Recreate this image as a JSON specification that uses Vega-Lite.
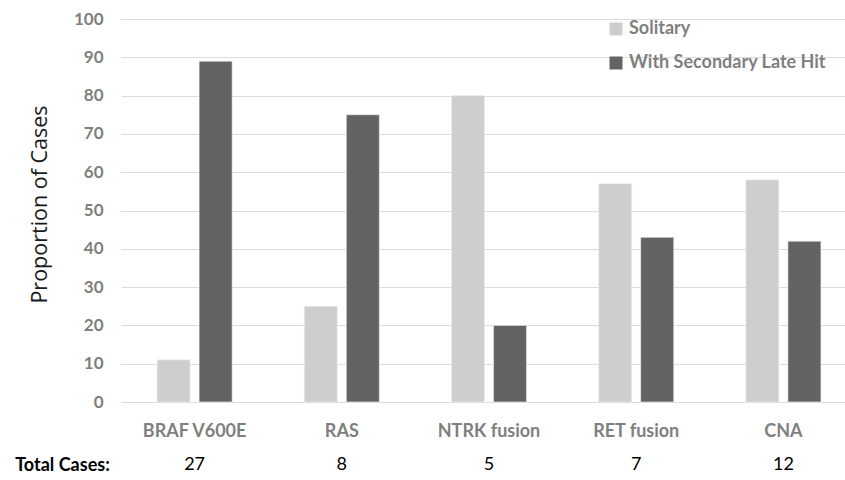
{
  "$schema": "https://vega.github.io/schema/vega-lite/v6.json",
  "autosize": "none",
  "padding": {"left": 121, "top": 19, "right": 0, "bottom": 78},
  "width": 736,
  "height": 383,
  "config": {
    "font": "Lato",
    "view": {"stroke": null},
    "axisY": {
      "values": [0, 10, 20, 30, 40, 50, 60, 70, 80, 90, 100],
      "titleFontSize": 21.5,
      "titleFontWeight": "normal",
      "titleColor": "#1a1a1a",
      "titleFont": "Open Sans",
      "titleX": -81,
      "titleY": 185,
      "titleAnchor": null,
      "titleAlign": "center",
      "titleBaseline": "middle",
      "labelFontSize": 17,
      "labelFontWeight": "bold",
      "labelColor": "#7f7f7f",
      "labelPadding": 18,
      "domain": false,
      "ticks": false,
      "grid": true,
      "gridColor": "#dcdcdc",
      "gridWidth": 1.2
    }
  },
  "datasets": {
    "bars": [
      {"category": "BRAF V600E", "group": "Solitary", "value": 11},
      {"category": "BRAF V600E", "group": "With Secondary Late Hit", "value": 89},
      {"category": "RAS", "group": "Solitary", "value": 25},
      {"category": "RAS", "group": "With Secondary Late Hit", "value": 75},
      {"category": "NTRK fusion", "group": "Solitary", "value": 80},
      {"category": "NTRK fusion", "group": "With Secondary Late Hit", "value": 20},
      {"category": "RET fusion", "group": "Solitary", "value": 57},
      {"category": "RET fusion", "group": "With Secondary Late Hit", "value": 43},
      {"category": "CNA", "group": "Solitary", "value": 58},
      {"category": "CNA", "group": "With Secondary Late Hit", "value": 42}
    ],
    "totals": [
      {"category": "BRAF V600E", "total": 27},
      {"category": "RAS", "total": 8},
      {"category": "NTRK fusion", "total": 5},
      {"category": "RET fusion", "total": 7},
      {"category": "CNA", "total": 12}
    ]
  },
  "layer": [
    {
      "data": {"name": "bars"},
      "mark": {"type": "bar", "stroke": "#f2f2f2", "strokeWidth": 0.6},
      "encoding": {
        "x": {
          "field": "category",
          "type": "nominal",
          "sort": ["BRAF V600E", "RAS", "NTRK fusion", "RET fusion", "CNA"],
          "scale": {"paddingInner": 0, "paddingOuter": 0},
          "axis": {
            "title": "Total Cases:",
            "titleFontSize": 18,
            "titleFontWeight": "bold",
            "titleColor": "#000000",
            "titleAnchor": null,
            "titleAlign": "center",
            "titleBaseline": "middle",
            "titleX": -59,
            "titleY": 63,
            "labelAngle": 0,
            "labelFontSize": 18,
            "labelFontWeight": "bold",
            "labelColor": "#7f7f7f",
            "labelBaseline": "middle",
            "labelPadding": 29,
            "domain": false,
            "ticks": false,
            "grid": false
          }
        },
        "y": {
          "field": "value",
          "type": "quantitative",
          "scale": {"domain": [0, 100], "nice": false},
          "title": "Proportion of Cases"
        },
        "xOffset": {
          "field": "group",
          "type": "nominal",
          "sort": ["Solitary", "With Secondary Late Hit"],
          "scale": {"paddingInner": 0.214, "paddingOuter": 0.857}
        },
        "color": {
          "field": "group",
          "type": "nominal",
          "sort": ["Solitary", "With Secondary Late Hit"],
          "scale": {"domain": ["Solitary", "With Secondary Late Hit"], "range": ["#cdcecf", "#636365"]},
          "legend": {
            "title": null,
            "orient": "none",
            "legendX": 486,
            "legendY": 1,
            "symbolType": "square",
            "symbolSize": 169,
            "symbolStrokeWidth": 0,
            "labelFontSize": 18,
            "labelFontWeight": "bold",
            "labelColor": "#7f7f7f",
            "labelOffset": 4,
            "labelLimit": 400,
            "rowPadding": 16
          }
        }
      }
    },
    {
      "data": {"name": "totals"},
      "mark": {"type": "text", "fontSize": 18, "fill": "#000000", "baseline": "middle", "clip": false},
      "encoding": {
        "x": {
          "field": "category",
          "type": "nominal",
          "sort": ["BRAF V600E", "RAS", "NTRK fusion", "RET fusion", "CNA"]
        },
        "y": {"datum": -16.4, "type": "quantitative", "scale": {"clamp": false}},
        "text": {"field": "total", "type": "nominal"}
      }
    }
  ]
}
